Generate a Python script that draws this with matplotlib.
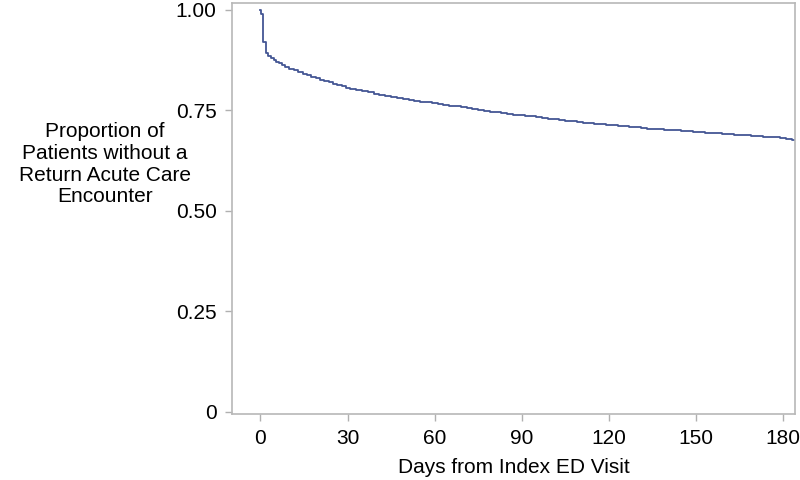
import matplotlib
matplotlib.use("Agg")
import matplotlib.pyplot as plt

days = [0, 0.1, 0.9, 1.8, 2.6, 3.5, 4.5, 5.5, 6.5, 7.5, 8.5, 10, 11.5, 13, 14.5, 16,
        17.5, 19, 20.5, 22, 23.5, 25, 26.5, 28, 29.5, 31, 33, 35, 37, 39, 41, 43,
        45, 47, 49, 51, 53, 55, 57, 59, 61, 63, 65, 67, 69, 71, 73, 75, 77, 79,
        81, 83, 85, 87, 89, 91, 93, 95, 97, 99, 101, 103, 105, 107, 109, 111, 113,
        115, 117, 119, 121, 123, 125, 127, 129, 131, 133, 135, 137, 139, 141, 143,
        145, 147, 149, 151, 153, 155, 157, 159, 161, 163, 165, 167, 169, 171, 173,
        175, 177, 179, 181, 183]
survival = [1.000, 0.990, 0.920, 0.893, 0.885, 0.880, 0.875, 0.871, 0.867, 0.863,
            0.859, 0.854, 0.850, 0.845, 0.841, 0.837, 0.834, 0.830, 0.827, 0.823,
            0.820, 0.816, 0.813, 0.810, 0.807, 0.804, 0.801, 0.798, 0.795, 0.792,
            0.789, 0.786, 0.784, 0.781, 0.779, 0.777, 0.774, 0.772, 0.770, 0.768,
            0.766, 0.764, 0.762, 0.760, 0.758, 0.756, 0.754, 0.752, 0.749, 0.746,
            0.745, 0.743, 0.741, 0.739, 0.738, 0.736, 0.735, 0.733, 0.731, 0.729,
            0.728, 0.726, 0.725, 0.723, 0.722, 0.720, 0.719, 0.717, 0.716, 0.715,
            0.713, 0.712, 0.711, 0.709, 0.708, 0.706, 0.705, 0.704, 0.703, 0.702,
            0.701, 0.701, 0.700, 0.698, 0.697, 0.696, 0.695, 0.694, 0.693, 0.692,
            0.691, 0.690, 0.689, 0.688, 0.687, 0.686, 0.685, 0.684, 0.683, 0.681,
            0.679, 0.677]
end_day = 184
xticks = [0, 30, 60, 90, 120, 150, 180]
yticks = [0, 0.25, 0.50, 0.75, 1.00]
ytick_labels = ["0", "0.25", "0.50", "0.75", "1.00"]

plt.rcParams['font.family'] = ['Liberation Sans', 'DejaVu Sans']

fig = plt.figure(figsize=(8, 4.8), dpi=100)
ax = fig.add_axes([0.29, 0.1375, 0.704, 0.856])

x = days + [end_day]
y = survival + [survival[-1]]
ax.step(x, y, where='post', color='#445694', linewidth=1.3)

ax.set_xlim(-9.8, 184.2)
ax.set_ylim(-0.005, 1.017)
ax.set_xticks(xticks)
ax.set_xticklabels([str(t) for t in xticks])
ax.set_yticks(yticks)
ax.set_yticklabels(ytick_labels)

for s in ax.spines.values():
    s.set_color('#b8b8b8')
    s.set_linewidth(1.2)
ax.tick_params(axis='both', which='major', direction='out', length=5, width=1,
               color='#b0b0b0', labelsize=15, labelcolor='black', pad=6)

ax.set_xlabel("Days from Index ED Visit", fontsize=15, labelpad=7)
fig.text(0.131, 0.658, "Proportion of\nPatients without a\nReturn Acute Care\nEncounter",
         ha='center', va='center', fontsize=15, linespacing=1.18)

fig.savefig("out.png", dpi=100)
